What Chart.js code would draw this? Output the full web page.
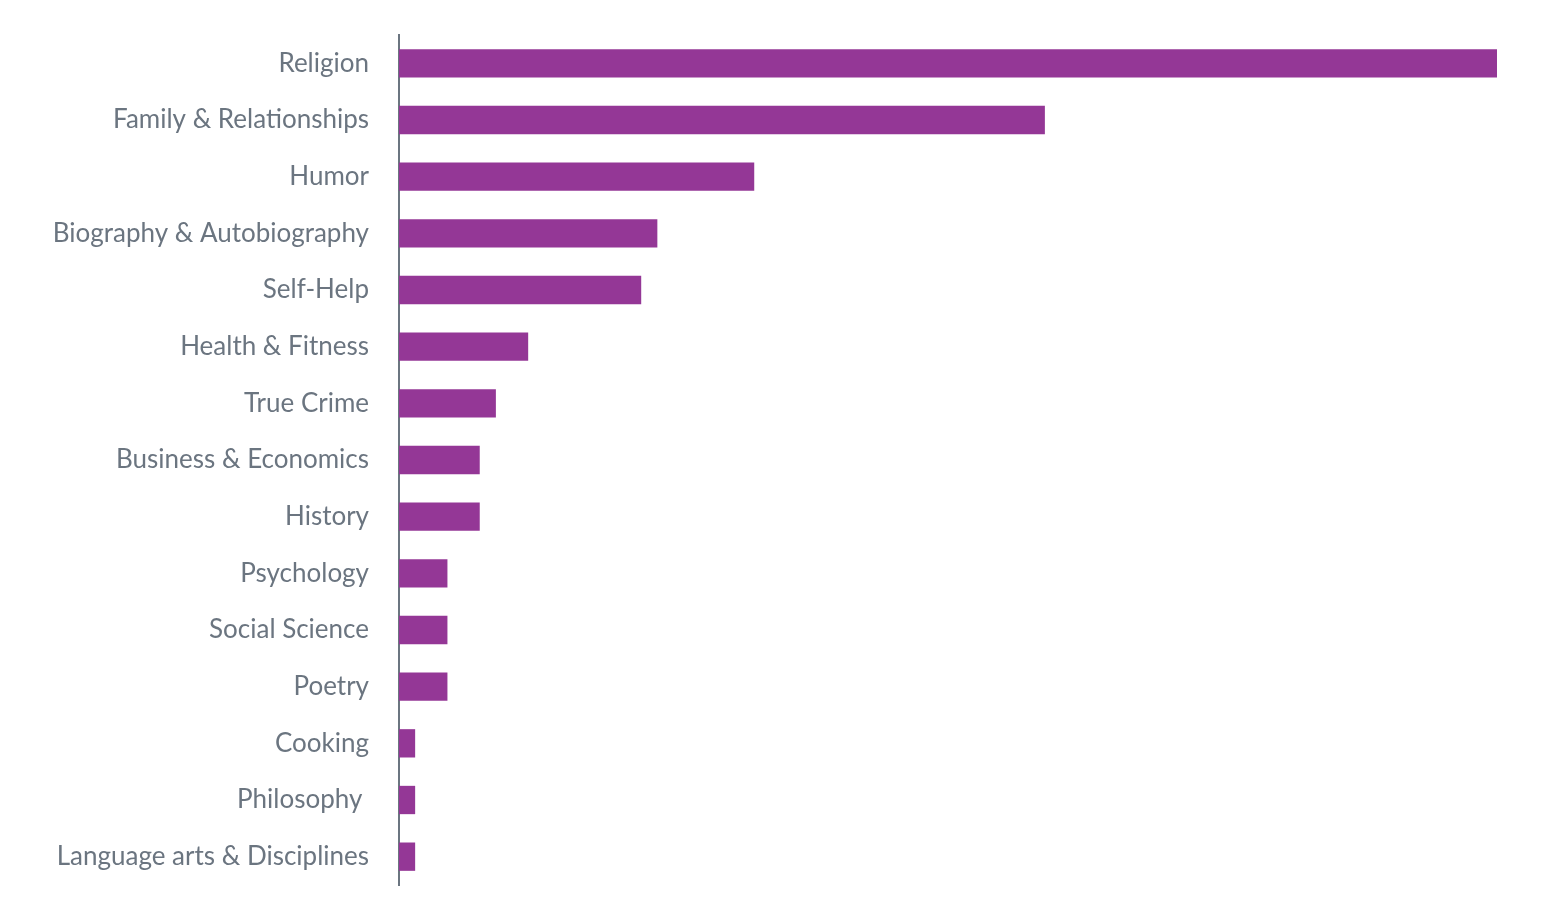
<!DOCTYPE html>
<html>
<head>
<meta charset="utf-8">
<script src="https://cdn.jsdelivr.net/npm/chart.js@4"></script>
<style>
  html, body { margin: 0; padding: 0; background: #fff; }
  #wrap { width: 1549px; height: 903px; }
</style>
</head>
<body>
<div id="wrap"><canvas id="myBarGraph"></canvas></div>
<script>
var categories = ["Religion", "Family & Relationships", "Humor", "Biography & Autobiography",
  "Self-Help", "Health & Fitness", "True Crime", "Business & Economics", "History",
  "Psychology", "Social Science", "Poetry", "Cooking", "Philosophy ", "Language arts & Disciplines"];
var bookCounts = [68, 40, 22, 16, 15, 8, 6, 5, 5, 3, 3, 3, 1, 1, 1];

var graphID = document.getElementById("myBarGraph").getContext("2d");

var graphConfig = {
  type: 'bar',
  data: {
    labels: categories,
    datasets: [{
      data: bookCounts,
      backgroundColor: '#943796',
      barPercentage: 0.5,
      categoryPercentage: 1.0
    }]
  },
  options: {
    indexAxis: 'y',
    responsive: true,
    maintainAspectRatio: false,
    animation: false,
    layout: { padding: { top: 35, right: 52, bottom: 18, left: 0 } },
    plugins: { legend: { display: false }, tooltip: { enabled: false } },
    scales: {
      x: { display: false, min: 0, max: 68 },
      y: {
        grid: { display: false },
        border: { display: true, color: '#6b7580', width: 2 },
        ticks: {
          padding: 22,
          color: '#6b7580',
          font: { family: 'Lato', size: 26 }
        },
        afterFit: function(scale) {
          scale.width = 399;
          scale.paddingTop = 0;
          scale.paddingBottom = 0;
        }
      }
    }
  }
};

var myChart = new Chart(graphID, graphConfig);
</script>
</body>
</html>
